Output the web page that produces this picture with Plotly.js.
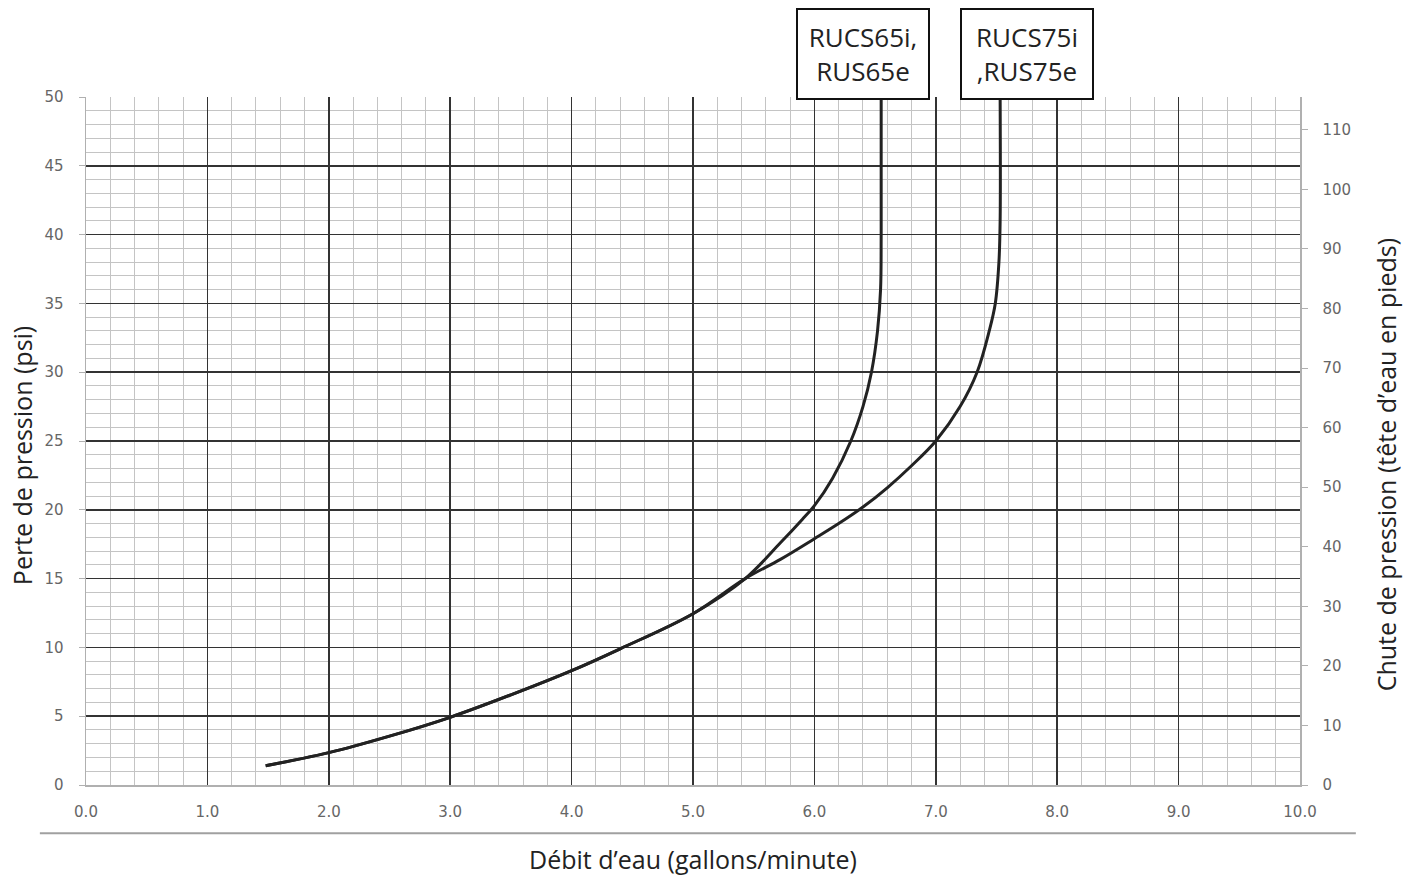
<!DOCTYPE html>
<html>
<head>
<meta charset="utf-8">
<script src="https://cdn.plot.ly/plotly-3.0.1.min.js"></script>
<style>
html,body{margin:0;padding:0;background:#fff;}
#chart{width:1416px;height:877px;}
</style>
</head>
<body>
<div id="chart"></div>
<script>
// Shared lower part of both curves (gpm, psi)
const commonX = [1.48, 2.0, 2.5, 3.0, 3.5, 4.0, 4.4, 5.0, 5.43];
const commonY = [1.4, 2.35, 3.55, 4.92, 6.55, 8.31, 9.9, 12.45, 15.0];
// RUCS65i, RUS65e upper branch
const s65X = [5.72, 5.9, 6.0, 6.15, 6.3, 6.4, 6.47, 6.52, 6.545, 6.55, 6.55];
const s65Y = [17.6, 19.3, 20.3, 22.3, 25.0, 27.5, 30.0, 33.0, 36.0, 40.0, 50.0];
// RUCS75i, RUS75e upper branch
const s75X = [5.72, 6.0, 6.2, 6.4, 6.6, 6.8, 7.0, 7.2, 7.34, 7.44, 7.49, 7.52, 7.53, 7.53];
const s75Y = [16.4, 17.9, 19.0, 20.2, 21.6, 23.2, 25.0, 27.5, 30.0, 33.0, 35.0, 38.0, 41.0, 50.0];

const seriesNames = ["RUCS65i,<br>RUS65e", "RUCS75i<br>,RUS75e"];
const labelX = [6.4, 7.75];

const xTickVals = [0,1,2,3,4,5,6,7,8,9,10];
const xTickText = ["0.0","1.0","2.0","3.0","4.0","5.0","6.0","7.0","8.0","9.0","10.0"];
const yTickVals = [0,5,10,15,20,25,30,35,40,45,50];
const y2TickVals = [0,10,20,30,40,50,60,70,80,90,100,110];
const psiToFeet = 2.31;

const lineStyle = {color:'#222222', width:3, shape:'spline', smoothing:1};
const traces = [
  {x: commonX.concat(s65X), y: commonY.concat(s65Y), mode:'lines', line: lineStyle, hoverinfo:'x+y', showlegend:false},
  {x: commonX.concat(s75X), y: commonY.concat(s75Y), mode:'lines', line: lineStyle, hoverinfo:'x+y', showlegend:false},
  {x:[0], y:[0], yaxis:'y2', mode:'markers', marker:{opacity:0}, hoverinfo:'skip', showlegend:false}
];

const tickFont = {family:'"DejaVu Sans", sans-serif', size:15, color:'#666666'};
const titleFont = {family:'"Open Sans", sans-serif', size:25, color:'#222222'};

const layout = {
  width:1416, height:877,
  margin:{l:86, r:116, t:97, b:92, pad:0},
  paper_bgcolor:'#ffffff', plot_bgcolor:'#ffffff',
  showlegend:false,
  xaxis:{
    range:[0,10], tickvals:xTickVals, ticktext:xTickText,
    showgrid:true, gridcolor:'#333333', gridwidth:1.5,
    minor:{dtick:0.2, showgrid:true, gridcolor:'#c4c4c4', gridwidth:1},
    zeroline:false, showline:true, linecolor:'#b0b0b0', linewidth:1.5,
    ticks:'outside', ticklen:0, ticklabelstandoff:12,
    tickfont:tickFont, fixedrange:true,
    title:{text:"Débit d’eau (gallons/minute)", font:titleFont, standoff:32}
  },
  yaxis:{
    range:[0,50], tickvals:yTickVals,
    showgrid:true, gridcolor:'#333333', gridwidth:1.5,
    minor:{dtick:1, showgrid:true, gridcolor:'#c4c4c4', gridwidth:1},
    zeroline:false, showline:true, linecolor:'#b0b0b0', linewidth:1.5,
    ticks:'outside', ticklen:6, tickcolor:'#b0b0b0', ticklabelstandoff:12,
    tickfont:tickFont, fixedrange:true
  },
  yaxis2:{
    overlaying:'y', side:'right', range:[0, 50*psiToFeet], tickvals:y2TickVals,
    showgrid:false, zeroline:false, showline:true, linecolor:'#b0b0b0', linewidth:1.5,
    ticks:'outside', ticklen:6, tickcolor:'#b0b0b0', ticklabelstandoff:12,
    tickfont:tickFont, fixedrange:true
  },
  shapes:[
    {type:'line', xref:'paper', yref:'paper', x0:-0.038, x1:1.046, y0:-0.07, y1:-0.07,
     line:{color:'#a0a0a0', width:2}}
  ],
  annotations: seriesNames.map((t,i)=>({
    text:t, x:labelX[i], xref:'x', y:0.996, yref:'paper', xanchor:'center', yanchor:'bottom',
    showarrow:false, bgcolor:'#ffffff', bordercolor:'#111111', borderwidth:2,
    width:128, height:86, font:{family:'"Open Sans", sans-serif', size:26, color:'#222222'}, align:'center'
  })).concat([
    {text:"Perte de pression (psi)", textangle:-90, xref:'paper', yref:'paper',
     x:-0.0527, y:0.478, xanchor:'center', yanchor:'middle', showarrow:false, font:titleFont},
    {text:"Chute de pression (tête d’eau en pieds)", textangle:-90, xref:'paper', yref:'paper',
     x:1.0708, y:0.466, xanchor:'center', yanchor:'middle', showarrow:false, font:titleFont}
  ])
};

Plotly.newPlot('chart', traces, layout, {displayModeBar:false, staticPlot:true});
</script>
</body>
</html>
